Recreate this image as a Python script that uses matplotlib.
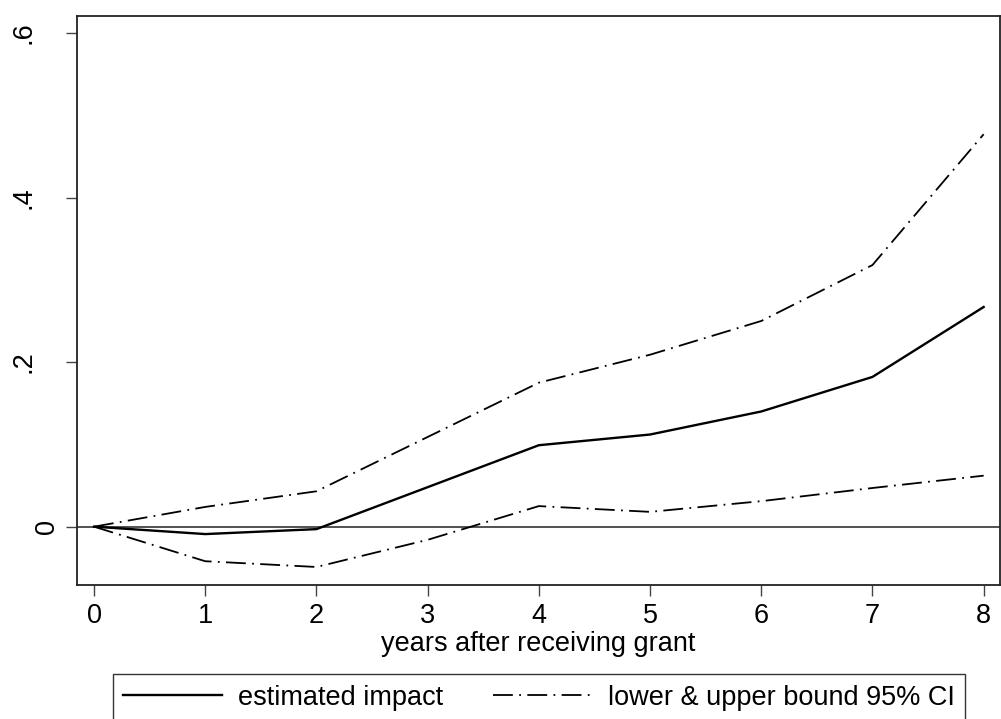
import matplotlib
matplotlib.use("Agg")
import matplotlib.pyplot as plt
from matplotlib.transforms import ScaledTranslation

plt.rcParams['font.family'] = ['Liberation Sans', 'DejaVu Sans']

years = [0, 1, 2, 3, 4, 5, 6, 7, 8]
estimate = [0.0, -0.009, -0.003, 0.048, 0.099, 0.112, 0.140, 0.182, 0.267]
upper = [0.0, 0.024, 0.043, 0.109, 0.175, 0.209, 0.250, 0.318, 0.477]
lower = [0.0, -0.042, -0.049, -0.016, 0.025, 0.018, 0.031, 0.047, 0.062]
yticks = [0, 0.2, 0.4, 0.6]
yticklabels = ['0', '.2', '.4', '.6']

FS = 19.5
fig = plt.figure(figsize=(10.01, 7.19), dpi=100)
ax = fig.add_axes([77/1001, 1 - 585/719, 923/1001, 569/719])

dd = (0, (11, 3.5, 1, 3.5))
ax.axhline(0, color='#333333', lw=1.2, zorder=1)
l1, = ax.plot(years, estimate, color='black', lw=1.7, label='estimated impact', zorder=3)
l2, = ax.plot(years, upper, color='black', lw=1.3, linestyle=dd,
              label='lower & upper bound 95% CI', zorder=2)
ax.plot(years, lower, color='black', lw=1.3, linestyle=dd, zorder=2)

ax.set_xlim(-0.153, 8.147)
ax.set_ylim(-0.0709, 0.6207)
ax.set_xticks(years)
ax.set_yticks(yticks)
ax.set_yticklabels(yticklabels, rotation=90, va='center')
ax.tick_params(axis='both', direction='out', length=8, width=1, color='#444444',
               labelsize=FS)
ax.tick_params(axis='x', pad=5)
ax.tick_params(axis='y', pad=21)
for s in ax.spines.values():
    s.set_linewidth(1.3)
    s.set_color('#222222')
ax.set_xlabel('years after receiving grant', fontsize=FS, labelpad=1.5)

# the zero label sits closer to the axis in the reference
for lab in ax.get_yticklabels():
    if lab.get_text() == '0':
        lab.set_transform(lab.get_transform() + ScaledTranslation(0.235, 0, fig.dpi_scale_trans))

leg = fig.legend(handles=[l1, l2], loc='lower center', ncol=2,
                 bbox_to_anchor=(539/1001, -2/719), fontsize=FS, frameon=True,
                 fancybox=False, edgecolor='black', handlelength=3.65, handletextpad=0.6,
                 columnspacing=1.85, borderpad=0.38, borderaxespad=0)
leg.get_frame().set_linewidth(1.0)

fig.savefig('out.png', dpi=100)
